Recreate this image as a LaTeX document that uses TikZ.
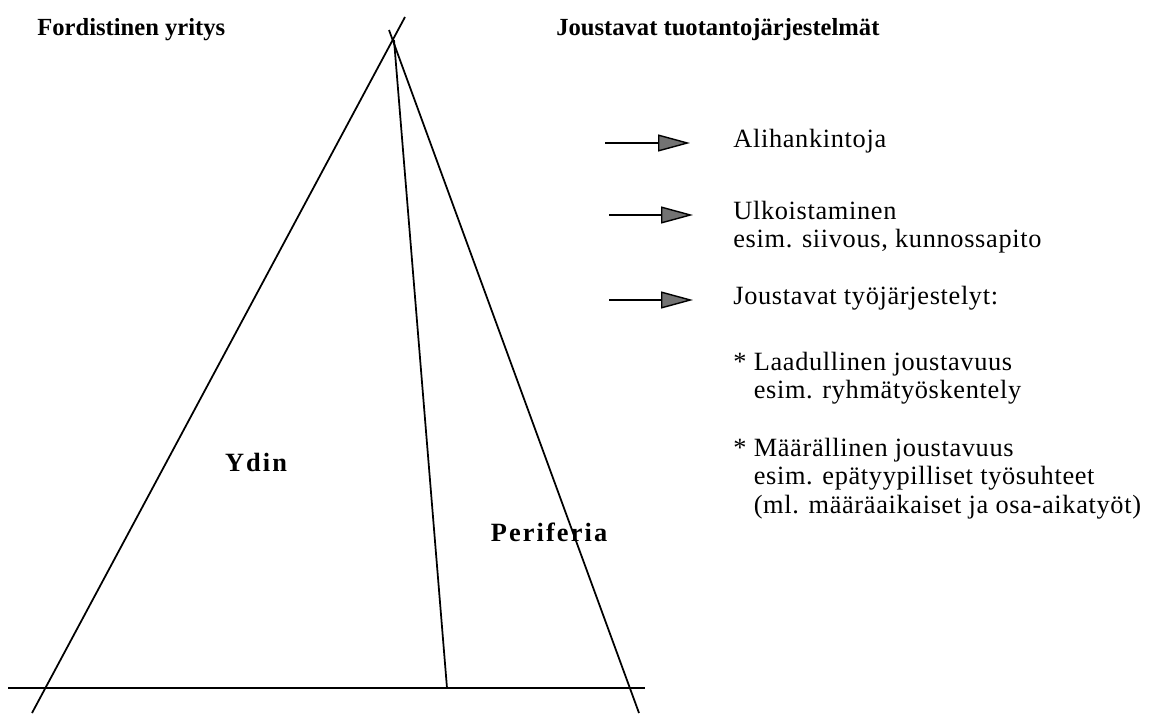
\documentclass[tikz,border=0pt]{standalone}
\usepackage{fontspec}
\setmainfont{Liberation Serif}
\usetikzlibrary{arrows.meta, positioning}

\begin{document}
\begin{tikzpicture}[
        x=0.02cm, y=-0.02cm,
        title/.style = {
            anchor=west,
            inner sep=0pt,
            font=\fontsize{14}{16}\selectfont\bfseries
        },
        label/.style = {
            inner sep=0pt,
            font=\fontsize{15}{17}\selectfont\bfseries\addfontfeatures{LetterSpace=8}
        },
        line/.style = {
            anchor=west,
            inner sep=0pt,
            text height=0.36cm,
            text depth=0.2cm,
            font=\fontsize{15}{17}\selectfont\addfontfeatures{LetterSpace=2.5}
        },
        edge/.style = {
            line width=1pt
        },
        arrow/.style = {
            -{Triangle[length=6.4mm, width=3.4mm, fill=black!55]},
            line width=0.8pt
        }
    ]

    \useasboundingbox (0,0) rectangle (1172,713);

    % Triangle
    \coordinate (ltop) at (405,17);
    \coordinate (lbot) at (32,713);
    \coordinate (rtop) at (389,30);
    \coordinate (rbot) at (639,713);
    \coordinate (apex) at (394,40);
    \coordinate (mbot) at (447,688);
    \coordinate (bleft) at (8,688);
    \coordinate (bright) at (645,688);

    \draw[edge] (ltop) -- (lbot);
    \draw[edge] (rtop) -- (rbot);
    \draw[edge] (apex) -- (mbot);
    \draw[edge] (bleft) -- (bright);

    % Titles
    \node[title] (fordist) at (37,30) {Fordistinen yritys};
    \node[title] (joustot) at (556,30) {Joustavat tuotantojärjestelmät};

    \node[label] (ydin) at (256,462) {Ydin};
    \node[label] (periferia) at (549,532) {Periferia};

    % Arrows
    \coordinate (a1s) at (605,143);
    \coordinate (a1e) at (690,143);
    \coordinate (a2s) at (609,215);
    \coordinate (a2e) at (693,215);
    \coordinate (a3s) at (609,300);
    \coordinate (a3e) at (693,300);

    \draw[arrow] (a1s) -- (a1e);
    \draw[arrow] (a2s) -- (a2e);
    \draw[arrow] (a3s) -- (a3e);

    % Texts
    \node[line] (alihank) at (733,143) {Alihankintoja};

    \node[line] (ulko) at (733,215) {Ulkoistaminen};
    \node[line, below right=0pt and 0pt of ulko.south west] (ulkoesim) {esim. siivous, kunnossapito};

    \node[line] (tyojarj) at (733,300) {Joustavat työjärjestelyt:};

    \node[line] (laad) at (733,366) {* Laadullinen joustavuus};
    \node[line, below right=0pt and 0pt of laad.south west] (laadesim) {\phantom{*} esim. ryhmätyöskentely};

    \node[line] (maar) at (733,452) {* Määrällinen joustavuus};
    \node[line, below right=0pt and 0pt of maar.south west] (maaresim) {\phantom{*} esim. epätyypilliset työsuhteet};
    \node[line, below right=0pt and 0pt of maaresim.south west] (maarml) {\phantom{*} (ml. määräaikaiset ja osa-aikatyöt)};

\end{tikzpicture}
\end{document}
